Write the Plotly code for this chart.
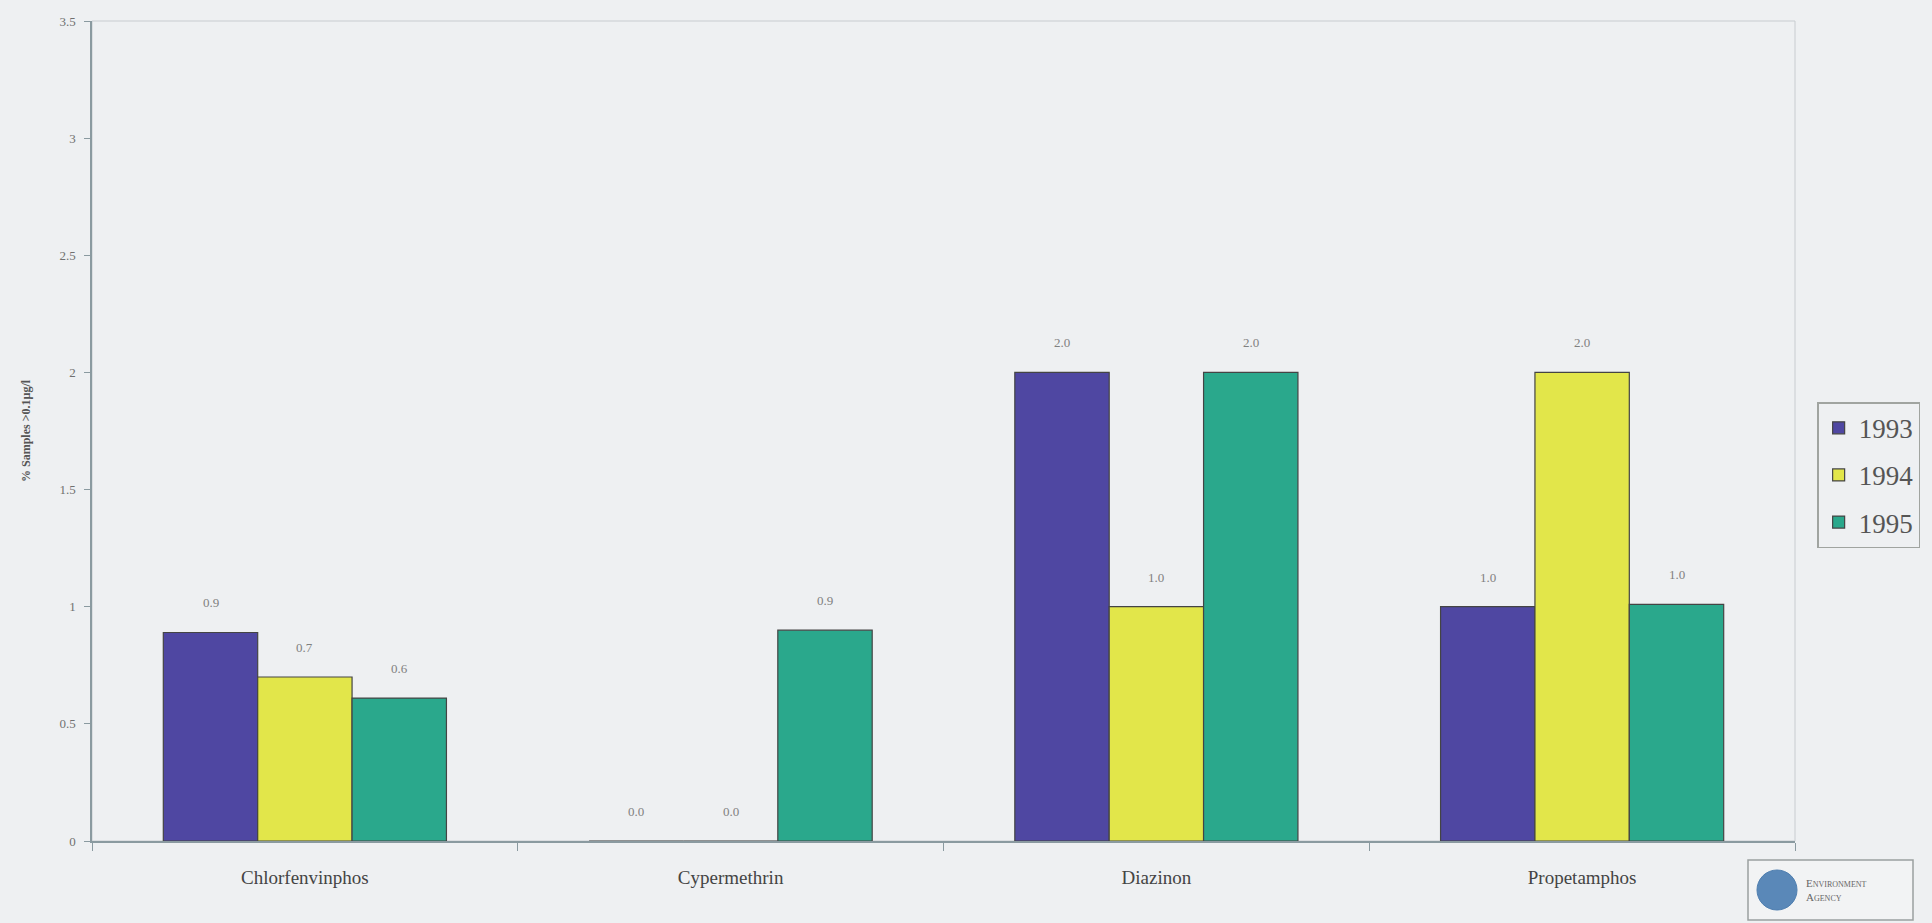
import plotly.graph_objects as go

categories = ["Chlorfenvinphos", "Cypermethrin", "Diazinon", "Propetamphos"]
years = ["1993", "1994", "1995"]
values_1993 = [0.89, 0.0, 2.0, 1.0]
values_1994 = [0.70, 0.0, 1.0, 2.0]
values_1995 = [0.61, 0.9, 2.0, 1.01]
colors = ["#4f47a2", "#e2e64a", "#2aa88c"]
y_ticks = [0, 0.5, 1, 1.5, 2, 2.5, 3, 3.5]
y_tick_labels = ["0", "0.5", "1", "1.5", "2", "2.5", "3", "3.5"]

serif = "Liberation Serif, Times New Roman, serif"
BARGAP = 0.335
bar_w = (1 - BARGAP) / 3

fig = go.Figure()
series = [values_1993, values_1994, values_1995]
for i, (name, vals, col) in enumerate(zip(years, series, colors)):
    fig.add_trace(go.Bar(
        x=categories, y=vals, name=name, legendgroup=name,
        marker=dict(color=col, line=dict(color="#444444", width=1.2)),
    ))
    for j, v in enumerate(vals):
        fig.add_annotation(
            x=j + (i - 1) * bar_w, y=v, xref="x", yref="y",
            text=f"{v:.1f}", showarrow=False, yanchor="bottom", yshift=20,
            font=dict(family=serif, size=13, color="#808080"),
        )

fig.update_layout(
    width=1932, height=923,
    barmode="group", bargap=BARGAP, bargroupgap=0,
    paper_bgcolor="#eef0f2", plot_bgcolor="#eef0f2",
    margin=dict(l=92, r=137, t=21, b=82, autoexpand=False),
    font=dict(family=serif, color="#555555"),
    showlegend=True,
    legend=dict(
        x=1.013, xanchor="left", y=0.535, yanchor="top",
        font=dict(family=serif, size=27, color="#555555"),
        bordercolor="#a0a4a0", borderwidth=1.5, bgcolor="#eef0f2",
        tracegroupgap=9, itemwidth=30,
    ),
    xaxis=dict(
        showgrid=False, showline=True, linecolor="#8a9aa0", linewidth=1.5,
        ticks="outside", tickson="boundaries", ticklen=8, tickcolor="#8a9aa0",
        tickfont=dict(family=serif, size=19, color="#444444"),
        ticklabelstandoff=18,
        zeroline=False,
    ),
    yaxis=dict(
        range=[0, 3.5], tickvals=y_ticks, ticktext=y_tick_labels,
        showgrid=False, showline=True, linecolor="#8a9aa0", linewidth=1.5,
        ticks="outside", ticklen=6, tickcolor="#8a9aa0",
        tickfont=dict(family=serif, size=13, color="#707070"),
        ticklabelstandoff=6,
        zeroline=False,
        title=dict(text="<b>% Samples >0.1µg/l</b>", font=dict(family=serif, size=12, color="#555555"), standoff=26),
    ),
)

# plot border
fig.add_shape(type="rect", xref="paper", yref="paper", x0=0, y0=0, x1=1, y1=1,
              line=dict(color="#c8ccd0", width=1), layer="below")

# Environment Agency logo box
fig.add_shape(type="rect", xref="paper", yref="paper",
              x0=(1748 - 92) / 1703, x1=(1913 - 92) / 1703,
              y0=-(920 - 841) / 820, y1=-(860 - 841) / 820,
              line=dict(color="#9aa0a0", width=1.5), fillcolor="#f2f3f4")
fig.add_shape(type="circle", xref="paper", yref="paper",
              x0=(1757 - 92) / 1703, x1=(1797 - 92) / 1703,
              y0=-(910 - 841) / 820, y1=-(870 - 841) / 820,
              line=dict(color="#4f7fb0", width=1), fillcolor="#5a88b8")
fig.add_annotation(xref="paper", yref="paper",
                   x=(1804 - 92) / 1703, y=-(890 - 841) / 820,
                   xanchor="left", yanchor="middle", showarrow=False, align="left",
                   text="E<span style='font-size:8px'>NVIRONMENT</span><br>A<span style='font-size:8px'>GENCY</span>",
                   font=dict(family=serif, size=11, color="#666666"))

fig.write_html("out.html")
